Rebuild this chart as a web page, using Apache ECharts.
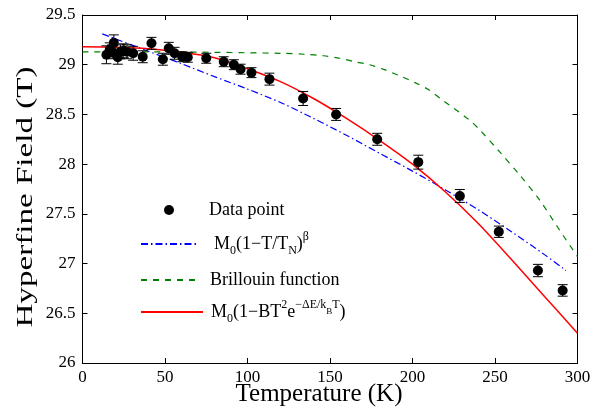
<!DOCTYPE html>
<html>
<head>
<meta charset="utf-8">
<script src="https://cdn.jsdelivr.net/npm/echarts@6/dist/echarts.min.js"></script>
<style>html,body{margin:0;padding:0;background:#fff;}#c{width:599px;height:413px;}</style>
</head>
<body>
<div id="c"></div>
<script>
// Measured data points (Temperature K, Hyperfine field T, error T)
const temps  = [14.5,16.5,18,19,21.4,23,25,27,30.7,36.5,41.8,48.7,52.3,55.8,60.4,63.8,75,85.6,91.7,95.8,102.4,113.3,133.7,153.7,178.6,203.5,228.7,252.3,276,291];
const fields = [29.10,29.15,29.13,29.22,29.075,29.13,29.14,29.13,29.115,29.08,29.215,29.055,29.165,29.115,29.08,29.075,29.065,29.03,29.0,28.955,28.92,28.855,28.66,28.50,28.25,28.02,27.68,27.32,26.93,26.73];
const errors = [0.09,0.07,0.07,0.08,0.07,0.07,0.07,0.07,0.07,0.06,0.06,0.06,0.06,0.06,0.05,0.05,0.05,0.05,0.05,0.05,0.05,0.06,0.07,0.06,0.06,0.07,0.065,0.057,0.062,0.058];

// Fit curves
const blueT  = [12,20,40,60,80,100,120,140,160,180,200,220,240,260,280,293];
const blueH  = [29.31,29.26,29.135,29.01,28.88,28.755,28.62,28.46,28.29,28.11,27.93,27.74,27.54,27.32,27.09,26.93];
const greenT = [0,40,80,100,120,135,146,156,165,174,183,192,201.5,209.6,217.7,234.8,241,253,265,277,289,300];
const greenH = [29.13,29.13,29.125,29.12,29.115,29.105,29.09,29.065,29.03,29.0,28.95,28.89,28.82,28.75,28.65,28.44,28.34,28.12,27.89,27.64,27.34,27.07];
const redT   = [0,20,40,60,80,100,120,140,160,180,200,220,240,260,280,300];
const redH   = [29.18,29.175,29.16,29.125,29.07,28.96,28.83,28.66,28.46,28.24,28.0,27.72,27.40,27.04,26.67,26.30];

const xTicks = {min:0, max:300, interval:50};
const yTicks = {min:26, max:29.5, interval:0.5};
const xTitle = 'Temperature (K)';
const yTitle = 'Hyperfine Field (T)';

const zip = (a,b) => a.map((v,i)=>[v,b[i]]);
const pts = temps.map((t,i)=>[t,fields[i],errors[i]]);

const FONT = 'Liberation Serif';
const rich = {
  t:{fontFamily:FONT,fontSize:18,color:'#000',lineHeight:26,verticalAlign:'middle'},
  s:{fontFamily:FONT,fontSize:12,color:'#000',lineHeight:26,verticalAlign:'bottom'},
  p:{fontFamily:FONT,fontSize:12,color:'#000',lineHeight:26,verticalAlign:'top'},
  b:{fontFamily:FONT,fontSize:9,color:'#000',lineHeight:26,verticalAlign:'middle'}
};
const labels = {
  'Data point':'{t|Data point}',
  'blue':'{t|M}{s|0}{t|(1\u2212T/T}{s|N}{t|)}{p|\u03b2}',
  'Brillouin function':'{t|Brillouin function}',
  'red':'{t|M}{s|0}{t|(1\u2212BT}{p|2}{t|e}{p|\u2212\u0394E/k}{b|B}{p|T}{t|)}'
};
function mkLegend(name, left, top, w, padL, hideSym){
  const l = {
    data:[name], left:left, top:top, padding:0, itemWidth:w, itemHeight:10,
    selectedMode:false,
    formatter: n => labels[n],
    textStyle:{fontFamily:FONT,fontSize:18,color:'#000',padding:[0,0,0,padL],rich:rich}
  };
  if (hideSym) l.itemStyle = {opacity:0};
  return l;
}

const axisCommon = {
  axisLine:{show:true,onZero:false,lineStyle:{color:'#000',width:1}},
  axisTick:{show:true,inside:true,length:5,lineStyle:{color:'#000'}},
  splitLine:{show:false}
};

const chart = echarts.init(document.getElementById('c'));
chart.setOption({
  animation:false,
  backgroundColor:'#fff',
  grid:{left:82.5,right:21.5,top:15,bottom:50,show:false},
  legend:[
    mkLegend('Data point',164,201,58,6,false),
    mkLegend('blue',140,231,58,10,true),
    mkLegend('Brillouin function',140,271,58,6,true),
    mkLegend('red',140,299,62,3,true)
  ],
  graphic:[
    {type:'text',x:319,y:394,silent:true,
      style:{text:xTitle,font:'25px "Liberation Serif"',fill:'#000',align:'center',verticalAlign:'middle'}},
    {type:'text',x:26,y:197,rotation:Math.PI/2,scaleX:1.38,silent:true,
      style:{text:yTitle,font:'24px "Liberation Serif"',fill:'#000',align:'center',verticalAlign:'middle'}}
  ],
  xAxis:[
    Object.assign({type:'value',position:'bottom',min:xTicks.min,max:xTicks.max,interval:xTicks.interval,
      axisLabel:{fontFamily:FONT,fontSize:17,color:'#000',margin:6}},axisCommon),
    Object.assign({type:'value',position:'top',min:xTicks.min,max:xTicks.max,interval:xTicks.interval,
      axisLabel:{show:false}},axisCommon)
  ],
  yAxis:[
    Object.assign({type:'value',position:'left',min:yTicks.min,max:yTicks.max,interval:yTicks.interval,
      axisLabel:{fontFamily:FONT,fontSize:17,color:'#000',margin:7}},axisCommon),
    Object.assign({type:'value',position:'right',min:yTicks.min,max:yTicks.max,interval:yTicks.interval,
      axisLabel:{show:false}},axisCommon)
  ],
  series:[
    {name:'blue',type:'line',data:zip(blueT,blueH),symbol:'none',smooth:0.3,
      lineStyle:{color:'#0000ff',width:1.2,type:[7,3,1.5,3]},itemStyle:{color:'#0000ff'},z:3},
    {name:'Brillouin function',type:'line',data:zip(greenT,greenH),symbol:'none',smooth:0.3,
      lineStyle:{color:'#008000',width:1.2,type:[6,6]},itemStyle:{color:'#008000'},z:3},
    {name:'red',type:'line',data:zip(redT,redH),symbol:'none',smooth:0.3,
      lineStyle:{color:'#ff0000',width:1.5,type:'solid'},itemStyle:{color:'#ff0000'},z:3},
    {name:'errbar',type:'custom',data:pts,z:4,
      renderItem:function(params,api){
        const x=api.value(0), y=api.value(1), e=api.value(2);
        const a=api.coord([x,y+e]), b=api.coord([x,y-e]);
        const w=5, st={stroke:'#000',lineWidth:1};
        return {type:'group',children:[
          {type:'line',shape:{x1:a[0],y1:a[1],x2:b[0],y2:b[1]},style:st},
          {type:'line',shape:{x1:a[0]-w,y1:a[1],x2:a[0]+w,y2:a[1]},style:st},
          {type:'line',shape:{x1:b[0]-w,y1:b[1],x2:b[0]+w,y2:b[1]},style:st}
        ]};
      }},
    {name:'Data point',type:'scatter',data:pts.map(p=>[p[0],p[1]]),symbol:'circle',symbolSize:10,
      itemStyle:{color:'#000',opacity:1},z:5}
  ]
});
</script>
</body>
</html>
